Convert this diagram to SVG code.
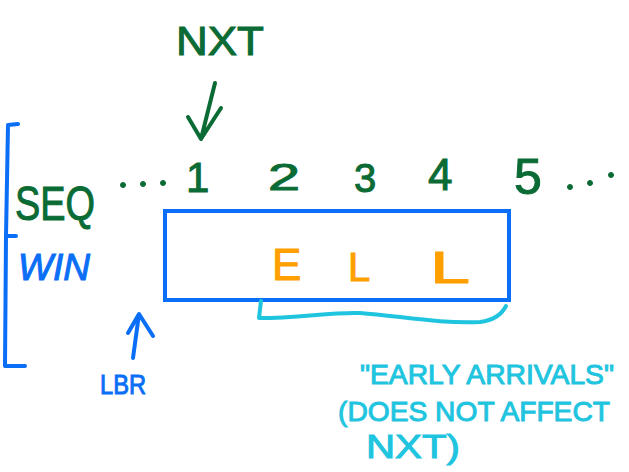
<svg xmlns="http://www.w3.org/2000/svg" width="629" height="472" viewBox="0 0 629 472">
<style>
.g{fill:#0b6b35;stroke:#0b6b35}
.b{fill:#0a6ef7;stroke:#0a6ef7}
.o{fill:#ff9f00;stroke:#ff9f00}
.c{fill:#1fc4df;stroke:#1fc4df}
text{font-family:"Liberation Sans","DejaVu Sans",sans-serif;stroke-width:1}
.ln{fill:none;stroke-linecap:round;stroke-linejoin:round;stroke-width:4}
.sg{stroke:#0b6b35}
.sb{stroke:#0a6ef7}
.sc{stroke:#1fc4df}
</style>
<rect width="629" height="472" fill="#ffffff"/>
<g id="bracket">
<path class="ln sb" d="M18,124 L8,125 L6,236 L5,366 L25,366 M6,236 L16,236"/>
</g>
<g id="nxt">
<text class="g" x="176" y="55" font-size="40" textLength="88" lengthAdjust="spacingAndGlyphs">NXT</text>
</g>
<g id="seq">
<text class="g" x="15" y="220" font-size="48" textLength="80" lengthAdjust="spacingAndGlyphs">SEQ</text>
<g class="g">
<circle cx="123" cy="185" r="2.5"/><circle cx="143" cy="184" r="2.5"/><circle cx="163" cy="183" r="2.5"/>
<circle cx="570" cy="187" r="2.5"/><circle cx="590" cy="183" r="2.5"/><circle cx="611" cy="175" r="2.5"/>
</g>
<text class="g" x="186" y="192" font-size="42">1</text>
<text class="g" x="268" y="190" font-size="36" textLength="32" lengthAdjust="spacingAndGlyphs">2</text>
<text class="g" x="354" y="192" font-size="40">3</text>
<text class="g" x="428" y="190" font-size="44">4</text>
<text class="g" x="514" y="194" font-size="50">5</text>
</g>
<g id="win">
<text class="b" x="18" y="280" font-size="36" font-style="italic" textLength="72" lengthAdjust="spacingAndGlyphs">WIN</text>
</g>
<g id="window">
<rect x="165" y="211" width="344" height="89" fill="none" stroke="#0a6ef7" stroke-width="4"/>
<text class="o" x="272" y="280" font-size="44">E</text>
<text class="o" x="348" y="281" font-size="40">L</text>
<text class="o" x="430" y="283" font-size="44" textLength="40" lengthAdjust="spacingAndGlyphs">L</text>
</g>
<g id="lbr">
<text class="b" x="100" y="394" font-size="28" textLength="46" lengthAdjust="spacingAndGlyphs">LBR</text>
</g>
<g id="early">
<text class="c" x="360" y="384" font-size="28" textLength="254" lengthAdjust="spacingAndGlyphs">"EARLY ARRIVALS"</text>
<text class="c" x="338" y="421" font-size="28" textLength="272" lengthAdjust="spacingAndGlyphs">(DOES NOT AFFECT</text>
<text class="c" x="366" y="458" font-size="34" textLength="94" lengthAdjust="spacingAndGlyphs">NXT)</text>
</g>
<g id="connectors">
<path class="ln sg" d="M215,83 L201,139 M188,117 L201,139 L221,108"/>
<path class="ln sb" d="M133,358 L139,314 M128,333 L139,314 L153,336"/>
<path class="ln sc" d="M261,301 L259,318 C300,318 330,312 360,313 C400,316 440,324 480,322 C495,320 502,314 506,306"/>
</g>
</svg>
